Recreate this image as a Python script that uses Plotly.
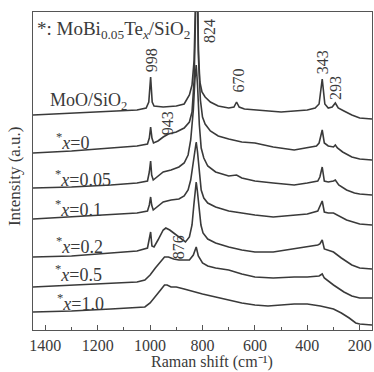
import plotly.graph_objects as go

# ---------------- data ----------------
# Raman shift (cm-1) and stacked intensity (a.u.) for each spectrum
shift_moo = [1447, 1300, 1150, 1050, 1015, 1005, 998, 992, 985, 950, 900, 870, 850, 840, 832, 826, 822,
             816, 810, 802, 790, 770, 740, 700, 680, 670, 660, 640, 600, 550, 500, 450, 400, 370, 355,
             343, 333, 320, 305, 293, 282, 260, 230, 200, 153]
int_moo = [215, 217, 219, 220, 222, 228, 253, 228, 224, 223, 224, 226, 235, 245, 270, 380, 380,
           280, 248, 238, 233, 228, 224, 222, 223, 228, 223, 221, 220, 219, 218, 219, 220, 222, 226,
           251, 226, 222, 223, 227, 222, 219, 215, 212, 211]

shift_x0 = [1447, 1300, 1150, 1050, 1010, 1003, 998, 993, 987, 970, 950, 930, 900, 870, 850, 840, 832,
            826, 821, 815, 808, 800, 790, 770, 740, 700, 650, 600, 530, 450, 400, 365, 355, 343, 335,
            320, 300, 293, 285, 265, 230, 200, 153]
int_x0 = [177, 179, 182, 184, 186, 192, 203, 192, 187, 189, 193, 196, 198, 202, 208, 218, 250,
          380, 380, 270, 230, 213, 206, 199, 194, 191, 188, 187, 183, 180, 182, 184, 187, 200, 187,
          184, 183, 185, 182, 178, 173, 171, 170]

shift_x005 = [1447, 1300, 1150, 1050, 1010, 1003, 998, 994, 988, 970, 950, 920, 890, 870, 855, 845, 835,
              829, 824, 819, 812, 805, 795, 780, 750, 700, 670, 650, 600, 530, 450, 400, 360, 352, 343,
              335, 320, 300, 293, 280, 250, 220, 200, 153]
int_x005 = [142, 143, 145, 147, 149, 158, 169, 155, 150, 154, 158, 160, 163, 167, 175, 190, 220,
            250, 265, 245, 205, 182, 172, 164, 158, 154, 155, 152, 149, 147, 145, 147, 149, 153, 163,
            149, 148, 149, 150, 145, 140, 137, 136, 135]

shift_x01 = [1447, 1300, 1150, 1050, 1010, 1003, 998, 994, 988, 970, 950, 920, 890, 870, 855, 845, 835,
             829, 824, 819, 812, 805, 795, 780, 750, 700, 650, 600, 530, 450, 400, 360, 352, 343, 335,
             320, 300, 280, 250, 200, 153]
int_x01 = [111, 113, 115, 117, 119, 125, 133, 125, 120, 124, 128, 130, 131, 134, 140, 150, 168,
           182, 188, 178, 155, 140, 132, 127, 123, 119, 117, 115, 113, 115, 116, 119, 124, 129, 118,
           117, 117, 114, 110, 106, 105]

shift_x02 = [1447, 1300, 1150, 1050, 1010, 1003, 998, 993, 985, 970, 950, 940, 925, 910, 895, 876, 865,
             850, 840, 833, 828, 824, 820, 814, 806, 798, 780, 750, 700, 650, 600, 530, 450, 400, 360,
             352, 343, 335, 300, 270, 230, 200, 153]
int_x02 = [73, 74, 77, 79, 82, 90, 98, 84, 83, 90, 100, 102, 100, 97, 94, 90, 88,
           93, 105, 125, 140, 148, 140, 125, 105, 97, 91, 87, 83, 80, 78, 78, 81, 83, 85,
           86, 90, 81, 78, 72, 65, 62, 61]

shift_x05 = [1447, 1300, 1150, 1050, 1020, 1000, 980, 960, 945, 930, 910, 890, 870, 850, 835, 824, 816,
             800, 780, 750, 700, 650, 600, 530, 450, 400, 355, 343, 335, 300, 260, 230, 200, 153]
int_x05 = [43, 45, 47, 48, 50, 55, 62, 68, 73, 73, 71, 70, 70, 70, 75, 83, 74,
           67, 64, 62, 60, 56, 53, 52, 53, 53, 54, 56, 52, 45, 38, 34, 32, 32]

shift_x10 = [1447, 1300, 1150, 1050, 1020, 1000, 980, 960, 945, 935, 920, 900, 870, 830, 800, 750, 700,
             650, 600, 550, 500, 450, 400, 350, 300, 270, 240, 215, 200, 153]
int_x10 = [18, 19, 21, 22, 23, 27, 33, 40, 45, 45, 43, 43, 41, 38, 36, 33, 30,
           27, 25, 24, 25, 26, 26, 24, 21, 17, 12, 7, 6, 5]

series_labels = ["MoO/SiO<sub>2</sub>", "<sup>*</sup><i>x</i>=0", "<sup>*</sup><i>x</i>=0.05",
                 "<sup>*</sup><i>x</i>=0.1", "<sup>*</sup><i>x</i>=0.2", "<sup>*</sup><i>x</i>=0.5",
                 "<sup>*</sup><i>x</i>=1.0"]
label_shift = [1237, 1298, 1256, 1275, 1271, 1275, 1267]
label_int = [229, 189, 152, 122, 85, 57, 28]

peak_texts = ["998", "824", "670", "343", "293", "943", "876"]
peak_text_shift = [996, 775, 666, 343, 294, 935, 893]
peak_text_int = [270, 299, 249, 268, 242, 207, 83]

tick_vals = [1400, 1200, 1000, 800, 600, 400, 200]

# ---------------- figure ----------------
FONT = "Liberation Serif, Times New Roman, serif"
LINE_COLOR = "#3a3a3a"
TEXT_COLOR = "#3a3a3a"

fig = go.Figure()
spectra = [(shift_moo, int_moo), (shift_x0, int_x0), (shift_x005, int_x005), (shift_x01, int_x01),
           (shift_x02, int_x02), (shift_x05, int_x05), (shift_x10, int_x10)]
names = ["MoO/SiO2", "x=0", "x=0.05", "x=0.1", "x=0.2", "x=0.5", "x=1.0"]
for (sx, sy), nm in zip(spectra, names):
    fig.add_trace(go.Scatter(x=sx, y=sy, mode="lines", name=nm,
                             line=dict(color=LINE_COLOR, width=1.6), showlegend=False,
                             hoverinfo="skip"))

annotations = []
for t, sx, sy in zip(series_labels, label_shift, label_int):
    annotations.append(dict(x=sx, y=sy, xref="x", yref="y", text=t, showarrow=False,
                            font=dict(family=FONT, size=18, color=TEXT_COLOR),
                            xanchor="center", yanchor="middle"))
for t, sx, sy in zip(peak_texts, peak_text_shift, peak_text_int):
    annotations.append(dict(x=sx, y=sy, xref="x", yref="y", text=t, showarrow=False,
                            textangle=-90, font=dict(family=FONT, size=16, color=TEXT_COLOR),
                            xanchor="center", yanchor="middle"))
annotations.append(dict(x=0.006, y=0.943, xref="paper", yref="paper",
                        text="*: MoBi<sub>0.05</sub>Te<sub><i>x</i></sub>/SiO<sub>2</sub>",
                        showarrow=False, font=dict(family=FONT, size=19, color=TEXT_COLOR),
                        xanchor="left", yanchor="middle"))
annotations.append(dict(x=0.528, y=-0.101, xref="paper", yref="paper",
                        text="Raman shift (cm\u207b\u00b9)", showarrow=False,
                        font=dict(family=FONT, size=16, color=TEXT_COLOR),
                        xanchor="center", yanchor="middle"))
annotations.append(dict(x=-0.056, y=0.484, xref="paper", yref="paper",
                        text="Intensity (a.u.)", showarrow=False, textangle=-90,
                        font=dict(family=FONT, size=17, color=TEXT_COLOR),
                        xanchor="center", yanchor="middle"))

fig.update_layout(
    width=374, height=372,
    margin=dict(l=33, r=2, t=12, b=42),
    paper_bgcolor="white", plot_bgcolor="white",
    annotations=annotations,
    xaxis=dict(range=[1447, 153], tickvals=tick_vals, ticktext=[str(v) for v in tick_vals],
               ticks="inside", ticklen=5, tickwidth=1, tickcolor="#555",
               minor=dict(dtick=100, tick0=0, ticks="inside", ticklen=3, tickcolor="#555"),
               showline=True, linecolor="#555", linewidth=1.3, mirror=True,
               showgrid=False, zeroline=False, ticklabelstandoff=1,
               tickfont=dict(family=FONT, size=16, color=TEXT_COLOR)),
    yaxis=dict(range=[0, 318], showticklabels=False, ticks="",
               showline=True, linecolor="#555", linewidth=1.3, mirror=True,
               showgrid=False, zeroline=False),
)

fig.write_html("out.html")
